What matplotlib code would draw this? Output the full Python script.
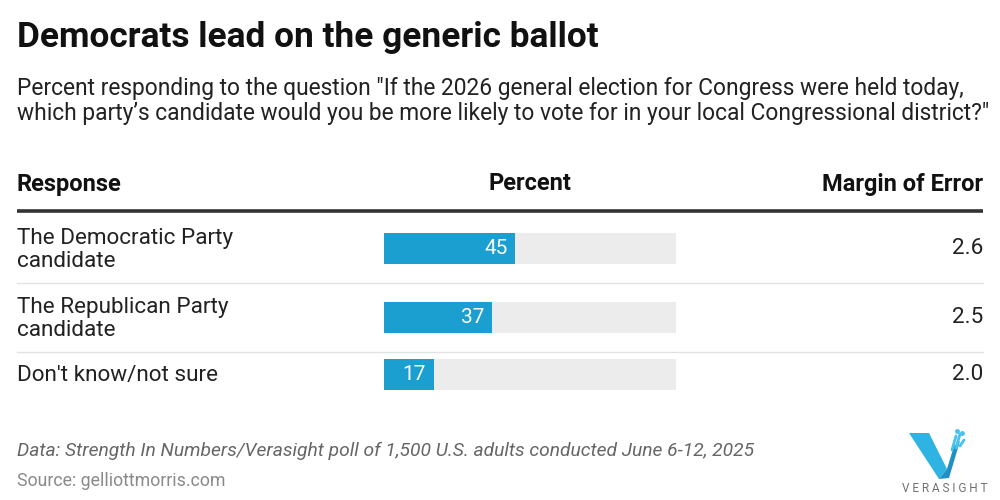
import matplotlib
matplotlib.use("Agg")
import matplotlib.pyplot as plt
from matplotlib.patches import Polygon

plt.rcParams['font.family'] = ['Roboto', 'DejaVu Sans']

title = "Democrats lead on the generic ballot"
subtitle = ('Percent responding to the question "If the 2026 general election for Congress were held today,\n'
            'which party\u2019s candidate would you be more likely to vote for in your local Congressional district?"')
headers = ["Response", "Percent", "Margin of Error"]
responses = ["The Democratic Party\ncandidate", "The Republican Party\ncandidate", "Don't know/not sure"]
percents = [45, 37, 17]
moe = [2.6, 2.5, 2.0]
footnote = "Data: Strength In Numbers/Verasight poll of 1,500 U.S. adults conducted June 6-12, 2025"
source = "Source: gelliottmorris.com"

BLUE = "#1b9fd0"
BG = "#ececec"

fig = plt.figure(figsize=(10, 5), dpi=100)
fig.patch.set_facecolor("white")

# overlay axes in pixel coordinates
ax = fig.add_axes([0, 0, 1, 1])
ax.set_xlim(0, 1000)
ax.set_ylim(500, 0)
ax.axis("off")

# bar axes: x in percent, y in pixels
bx = fig.add_axes([0.384, 0, 0.292, 1])
bx.set_xlim(0, 100)
bx.set_ylim(500, 0)
bx.axis("off")

ax.text(17, 37, title, fontsize=25.4, fontweight="bold", va="center", ha="left", color="#111111")
ax.text(17, 101, subtitle, fontsize=16.4, va="center", ha="left", color="#222222", linespacing=1.12)

hs = 17
ax.text(17, 184, headers[0], fontsize=hs, fontweight="bold", va="center", ha="left", color="#111111")
ax.text(530, 184, headers[1], fontsize=hs, fontweight="bold", va="center", ha="center", color="#111111")
ax.text(983, 184, headers[2], fontsize=hs, fontweight="bold", va="center", ha="right", color="#111111")
ax.plot([17, 983], [211, 211], color="#333333", lw=2.6, solid_capstyle="butt")

row_label_y = [250, 319, 375]
bar_y = [248.5, 317.5, 374]
sep_y = [283, 352]

for i, r in enumerate(responses):
    ax.text(17, row_label_y[i], r, fontsize=16.2, va="center", ha="left", color="#222222", linespacing=1.16)
    ax.text(983, bar_y[i], f"{moe[i]:.1f}", fontsize=16.2, va="center", ha="right", color="#222222")

bx.barh(bar_y, [100] * len(percents), height=31, color=BG, lw=0)
bx.barh(bar_y, percents, height=31, color=BLUE, lw=0)
for y, p in zip(bar_y, percents):
    bx.text(p - 2.7, y, str(p), fontsize=15, color="white", va="center", ha="right")

for y in sep_y:
    ax.plot([17, 983], [y, y], color="#e2e2e2", lw=1)

ax.text(17, 451, footnote, fontsize=13.9, style="italic", va="center", ha="left", color="#666666")
ax.text(17, 481, source, fontsize=12.8, va="center", ha="left", color="#8a8a8a")

# logo
ax.add_patch(Polygon([(909, 433), (929, 433), (947, 469), (939, 479)], closed=True, fc="#2fb3e3", ec="none"))
ax.add_patch(Polygon([(939, 479), (947, 469), (954, 446), (960, 441), (949, 478)], closed=True, fc="#1f8fc4", ec="none"))
for (x0, y0, x1, y1) in [(952, 450, 956, 436), (956, 448, 960, 434), (960, 446, 964, 440)]:
    ax.plot([x0, x1], [y0, y1], color="#46c2ee", lw=2, solid_capstyle="round")
ax.plot([957], [431], "o", ms=2.5, color="#46c2ee")
ax.plot([962], [433], "o", ms=2.5, color="#46c2ee")
ax.text(945, 489, "V E R A S I G H T", fontsize=8.5, va="center", ha="center", color="#707070")

fig.savefig("out.png", dpi=100, facecolor="white")
